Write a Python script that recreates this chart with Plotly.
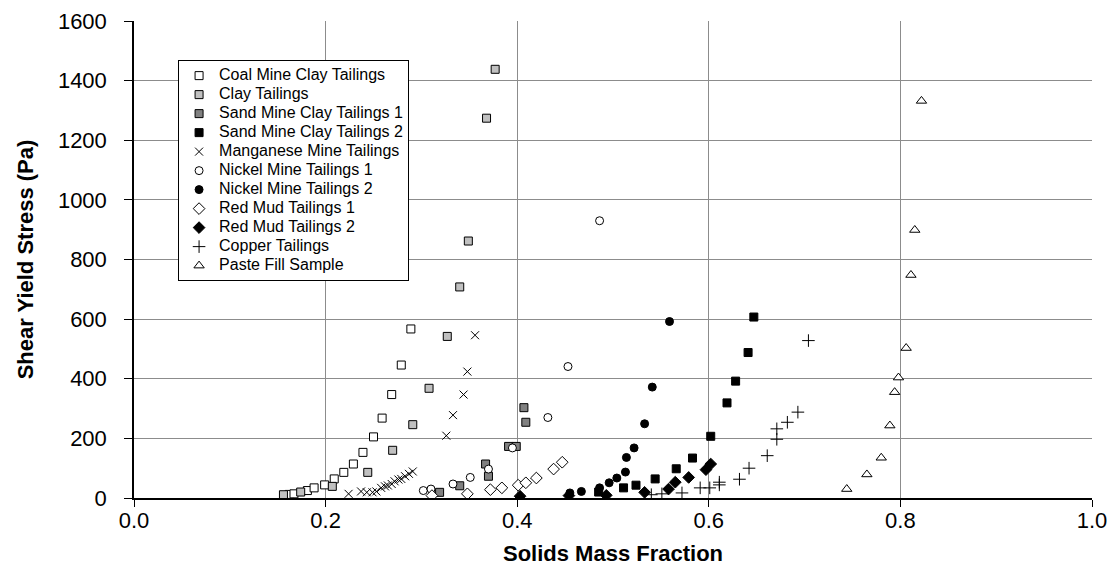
import plotly.graph_objects as go

# ---- data ----
coal_x = [0.162, 0.167, 0.181, 0.188, 0.199, 0.209, 0.219, 0.229, 0.239, 0.250, 0.259, 0.269, 0.279, 0.289]
coal_y = [12, 14, 25, 34, 44, 64, 86, 114, 153, 205, 268, 347, 446, 567]

clay_x = [0.156, 0.174, 0.207, 0.244, 0.270, 0.291, 0.308, 0.327, 0.340, 0.349, 0.368, 0.377]
clay_y = [11, 20, 39, 86, 160, 246, 368, 542, 708, 862, 1274, 1438]

sand1_x = [0.319, 0.340, 0.367, 0.370, 0.391, 0.399, 0.407, 0.409]
sand1_y = [19, 41, 114, 73, 173, 173, 303, 254]

sand2_x = [0.485, 0.511, 0.524, 0.544, 0.566, 0.583, 0.602, 0.619, 0.628, 0.641, 0.647]
sand2_y = [20, 34, 43, 64, 98, 134, 207, 319, 392, 488, 607]

mang_x = [0.224, 0.237, 0.243, 0.249, 0.253, 0.258, 0.262, 0.265, 0.269, 0.272, 0.276, 0.279,
          0.283, 0.287, 0.291, 0.326, 0.333, 0.344, 0.348, 0.356]
mang_y = [14, 22, 19, 19, 22, 34, 39, 42, 47, 56, 62, 64, 73, 81, 89, 209, 278, 347, 424, 546]

nick1_x = [0.302, 0.310, 0.333, 0.351, 0.370, 0.395, 0.432, 0.453, 0.486]
nick1_y = [25, 30, 47, 69, 97, 168, 270, 441, 930]

nick2_x = [0.455, 0.467, 0.486, 0.496, 0.504, 0.513, 0.514, 0.522, 0.533, 0.541, 0.559]
nick2_y = [17, 22, 34, 51, 67, 87, 136, 168, 249, 372, 592]

red1_x = [0.311, 0.348, 0.372, 0.384, 0.401, 0.409, 0.420, 0.438, 0.447]
red1_y = [8, 14, 28, 34, 43, 51, 67, 97, 120]

red2_x = [0.403, 0.454, 0.493, 0.533, 0.558, 0.565, 0.579, 0.597, 0.602]
red2_y = [6, 8, 9, 19, 30, 53, 69, 95, 114]

copper_x = [0.540, 0.551, 0.572, 0.591, 0.601, 0.611, 0.611, 0.632, 0.642, 0.661, 0.671, 0.671,
            0.682, 0.693, 0.704]
copper_y = [11, 14, 17, 34, 34, 44, 53, 63, 100, 142, 197, 232, 254, 288, 528]

paste_x = [0.744, 0.765, 0.780, 0.789, 0.794, 0.798, 0.806, 0.811, 0.815, 0.822]
paste_y = [30, 79, 135, 243, 355, 404, 503, 748, 899, 1332]

x_ticks = [0.0, 0.2, 0.4, 0.6, 0.8, 1.0]
x_tick_labels = ["0.0", "0.2", "0.4", "0.6", "0.8", "1.0"]
y_ticks = [0, 200, 400, 600, 800, 1000, 1200, 1400, 1600]

series_names = [
    "Coal Mine Clay Tailings", "Clay Tailings", "Sand Mine Clay Tailings 1",
    "Sand Mine Clay Tailings 2", "Manganese Mine Tailings", "Nickel Mine Tailings 1",
    "Nickel Mine Tailings 2", "Red Mud Tailings 1", "Red Mud Tailings 2",
    "Copper Tailings", "Paste Fill Sample",
]
series_x = [coal_x, clay_x, sand1_x, sand2_x, mang_x, nick1_x, nick2_x, red1_x, red2_x, copper_x, paste_x]
series_y = [coal_y, clay_y, sand1_y, sand2_y, mang_y, nick1_y, nick2_y, red1_y, red2_y, copper_y, paste_y]

# marker styles (symbol, fill, size)
styles = [
    ("square", "white", 8), ("square", "#c0c0c0", 8), ("square", "#808080", 8),
    ("square", "black", 8), ("x-thin", "black", 8), ("circle", "white", 8),
    ("circle", "black", 8), ("diamond", "white", 9), ("diamond", "black", 9),
    ("cross-thin", "black", 9), ("triangle-up", "white", 9),
]

FONT = "Liberation Sans, Arial, sans-serif"

fig = go.Figure()
for name, xs, ys, (sym, col, sz) in zip(series_names, series_x, series_y, styles):
    marker = dict(symbol=sym, size=sz, color=col, line=dict(color="black", width=1))
    fig.add_trace(go.Scatter(
        x=xs, y=ys, mode="markers",
        name='<span style="font-size:16px">' + name + "</span>",
        marker=marker,
    ))

# The page body has an 8px margin, so the figure is sized to fit the 1115x583 window.
fig.update_layout(
    width=1107, height=575,
    margin=dict(l=126, r=23, t=13, b=85, autoexpand=False),
    paper_bgcolor="white", plot_bgcolor="white",
    font=dict(family=FONT, color="black"),
    showlegend=True,
    legend=dict(
        x=0.046, y=0.918, xanchor="left", yanchor="top",
        bgcolor="white", bordercolor="black", borderwidth=1,
        font=dict(family=FONT, size=12, color="black"),
        itemsizing="trace",
    ),
    xaxis=dict(
        range=[0, 1], tickvals=x_ticks, ticktext=x_tick_labels,
        showgrid=True, gridcolor="#8c8c8c", gridwidth=1,
        showline=True, linecolor="black", linewidth=1.5,
        ticks="outside", ticklen=7, tickcolor="black",
        tickfont=dict(size=22, family=FONT), ticklabelstandoff=-5,
        zeroline=False, automargin=False,
        title=dict(text="<b>Solids Mass Fraction</b>", font=dict(size=22, family=FONT), standoff=13),
    ),
    yaxis=dict(
        range=[0, 1600], tickvals=y_ticks,
        showgrid=True, gridcolor="#8c8c8c", gridwidth=1,
        showline=True, linecolor="black", linewidth=1.5,
        ticks="outside", ticklen=8, tickcolor="black",
        tickfont=dict(size=22, family=FONT), ticklabelstandoff=13,
        zeroline=False, automargin=False,
        title=dict(text="<b>Shear Yield Stress (Pa)</b>", font=dict(size=22, family=FONT), standoff=18),
    ),
)

fig.write_html("out.html")
